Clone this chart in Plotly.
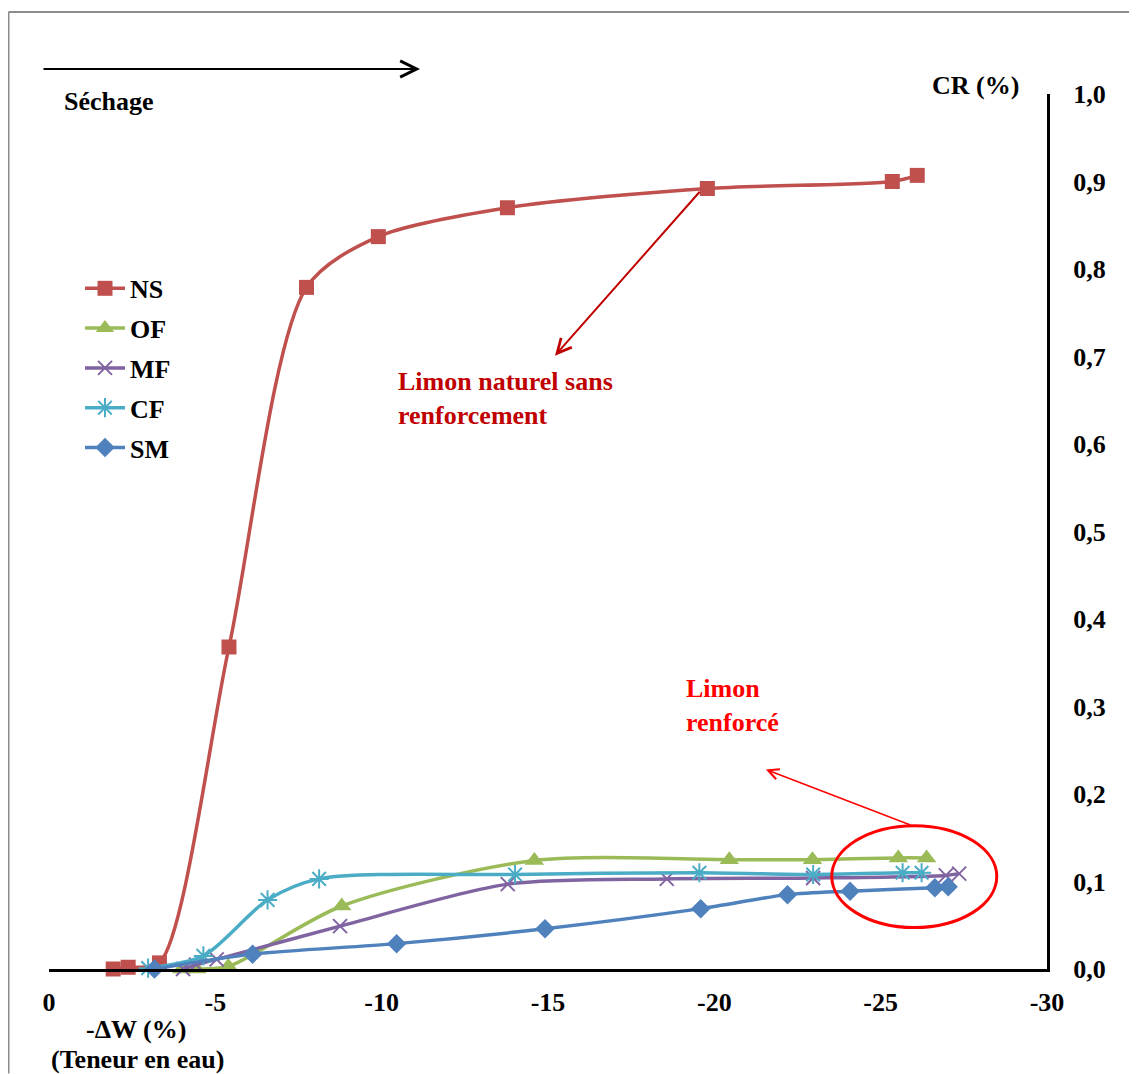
import plotly.graph_objects as go

# ---------------- data ----------------
ns_x = [-1.93, -2.38, -3.32, -5.41, -7.74, -9.90, -13.78, -19.79, -25.35, -26.10]
ns_y = [0.000, 0.002, 0.007, 0.368, 0.779, 0.837, 0.870, 0.892, 0.900, 0.907]

of_x = [-3.99, -4.44, -5.39, -8.80, -14.59, -20.45, -22.95, -25.53, -26.38]
of_y = [0.000, 0.000, 0.003, 0.072, 0.124, 0.125, 0.125, 0.127, 0.127]

mf_x = [-4.03, -4.42, -5.04, -8.75, -13.79, -18.57, -22.97, -26.96, -27.36]
mf_y = [0.000, 0.005, 0.011, 0.049, 0.097, 0.103, 0.104, 0.107, 0.109]

cf_x = [-2.98, -4.64, -6.57, -8.12, -14.01, -19.55, -22.97, -25.66, -26.23]
cf_y = [0.001, 0.015, 0.079, 0.103, 0.108, 0.110, 0.108, 0.110, 0.110]

sm_x = [-3.17, -6.12, -10.45, -14.91, -19.59, -22.20, -24.08, -26.63, -27.03]
sm_y = [0.000, 0.017, 0.029, 0.046, 0.069, 0.085, 0.089, 0.093, 0.094]

series_names = ["NS", "OF", "MF", "CF", "SM"]
x_tick_vals = [0, -5, -10, -15, -20, -25, -30]
x_tick_text = ["0", "-5", "-10", "-15", "-20", "-25", "-30"]
y_tick_vals = [0.0, 0.1, 0.2, 0.3, 0.4, 0.5, 0.6, 0.7, 0.8, 0.9, 1.0]

# ---------------- layout helpers (screen pixels) ----------------
OFF = 8  # page body margin
W, H = 1137 - OFF, 1074 - OFF
L_PX, R_PX, T_PX, B_PX = 49, 1047, 94, 969.5


def px(xp):
    return (xp - L_PX) / (R_PX - L_PX)


def py(yp):
    return (B_PX - yp) / (B_PX - T_PX)


FONT = "Liberation Serif, Times New Roman, serif"
FS = 26

styles = {
    "NS": dict(color="#C0504D", symbol="square", size=15),
    "OF": dict(color="#9BBB59", symbol="triangle-up", size=17),
    "MF": dict(color="#8064A2", symbol="x-thin-open", size=14),
    "CF": dict(color="#4BACC6", symbol="asterisk-open", size=16),
    "SM": dict(color="#4F81BD", symbol="diamond", size=15),
}
data = {
    "NS": (ns_x, ns_y),
    "OF": (of_x, of_y),
    "MF": (mf_x, mf_y),
    "CF": (cf_x, cf_y),
    "SM": (sm_x, sm_y),
}

fig = go.Figure()
for name in series_names:
    xs, ys = data[name]
    st = styles[name]
    open_sym = st["symbol"].endswith("open")
    fig.add_trace(go.Scatter(
        x=xs, y=ys, name=name, mode="lines+markers",
        legendgroup=name,
        line=dict(color=st["color"], width=3.5, shape="spline", smoothing=0.8),
        marker=dict(symbol=st["symbol"], size=st["size"], color=st["color"],
                    line=dict(color=st["color"], width=2 if open_sym else 0)),
        cliponaxis=False,
    ))

ann_font = dict(family=FONT, size=FS, color="black", weight="bold")

annotations = [
    # Séchage arrow
    dict(xref="paper", yref="paper", x=px(420), y=py(69), ax=-378, ay=0,
         axref="pixel", ayref="pixel", showarrow=True, arrowhead=5,
         arrowsize=1.6, arrowwidth=2, arrowcolor="black", text=""),
    dict(xref="paper", yref="paper", x=px(62), y=py(102), xanchor="left", yanchor="middle",
         text="Séchage", showarrow=False, font=ann_font),
    dict(xref="paper", yref="paper", x=px(1021), y=py(85), xanchor="right", yanchor="middle",
         text="CR (%)", showarrow=False, font=ann_font),
    # NS annotation
    dict(xref="paper", yref="paper", x=px(396), y=py(399), xanchor="left", yanchor="middle",
         align="left", text="Limon naturel sans<br>renforcement", showarrow=False,
         font=dict(family=FONT, size=FS, color="#C00000", weight="bold")),
    dict(xref="x", yref="y", axref="x", ayref="y", x=-15.21, y=0.701, ax=-19.6, ay=0.89,
         showarrow=True, arrowhead=5, arrowsize=1.4, arrowwidth=2, arrowcolor="#C00000", text=""),
    # reinforced annotation
    dict(xref="paper", yref="paper", x=px(684), y=py(706), xanchor="left", yanchor="middle",
         align="left", text="Limon<br>renforcé", showarrow=False,
         font=dict(family=FONT, size=FS, color="#FF0000", weight="bold")),
    dict(xref="x", yref="y", axref="x", ayref="y", x=-21.55, y=0.228, ax=-25.94, ay=0.164,
         showarrow=True, arrowhead=5, arrowsize=1.4, arrowwidth=1.5, arrowcolor="#FF0000", text=""),
    # x axis title
    dict(xref="paper", yref="paper", x=px(136), y=py(1030), xanchor="center", yanchor="middle",
         text="-ΔW (%)", showarrow=False, font=ann_font),
    dict(xref="paper", yref="paper", x=px(137), y=py(1060), xanchor="center", yanchor="middle",
         text="(Teneur en eau)", showarrow=False, font=ann_font),
]

shapes = [
    dict(type="circle", xref="x", yref="y", x0=-23.53, x1=-28.49, y0=0.0474, y1=0.1638,
         line=dict(color="#FF0000", width=3)),
    # outer frame
    dict(type="line", xref="paper", yref="paper", x0=px(8.5), x1=px(1137), y0=py(12), y1=py(12),
         line=dict(color="#8C8C8C", width=2)),
    dict(type="line", xref="paper", yref="paper", x0=px(8.5), x1=px(8.5), y0=py(12), y1=py(1074),
         line=dict(color="#8C8C8C", width=2)),
]

fig.update_layout(
    width=W, height=H,
    margin=dict(l=L_PX - OFF, r=W - (R_PX - OFF), t=T_PX - OFF, b=H - (B_PX - OFF), pad=0),
    paper_bgcolor="white", plot_bgcolor="white",
    separators=", ",
    font=dict(family=FONT, size=FS, color="black", weight="bold"),
    showlegend=True,
    legend=dict(x=px(80), y=py(265), xanchor="left", yanchor="top",
                bgcolor="rgba(0,0,0,0)", font=dict(family=FONT, size=FS, color="black", weight="bold"),
                itemwidth=40, tracegroupgap=3),
    annotations=annotations,
    shapes=shapes,
)

fig.update_xaxes(range=[0, -30], tickvals=x_tick_vals, ticktext=x_tick_text,
                 showline=True, linecolor="black", linewidth=3, showgrid=False, zeroline=False,
                 ticks="", ticklabelstandoff=8,
                 tickfont=dict(family=FONT, size=FS, color="black", weight="bold"))
fig.update_yaxes(range=[0, 1.0], tickvals=y_tick_vals, tickformat=".1f", side="right",
                 showline=True, linecolor="black", linewidth=3, showgrid=False, zeroline=False,
                 ticks="", ticklabelstandoff=18,
                 tickfont=dict(family=FONT, size=FS, color="black", weight="bold"))

fig.write_html("out.html")
